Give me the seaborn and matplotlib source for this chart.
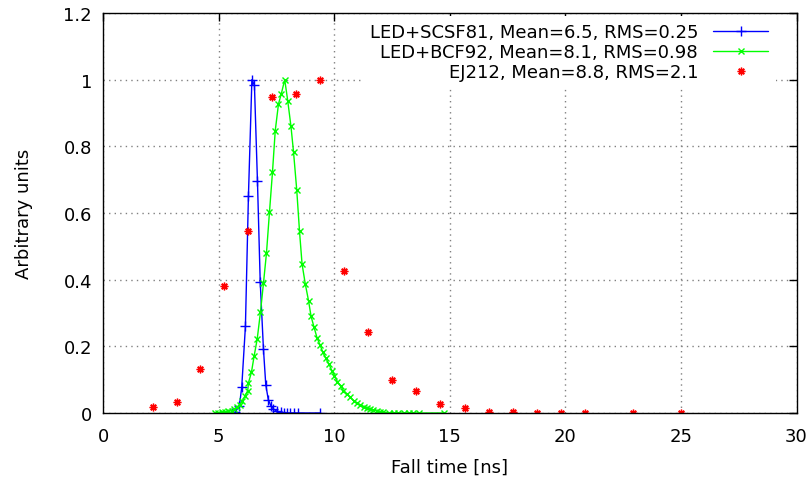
import numpy as np
import pandas as pd
import matplotlib
matplotlib.use("Agg")
import matplotlib.pyplot as plt
import seaborn as sns

# LED+SCSF81 (blue)
scsf81_t = [5.57, 5.71, 5.90, 6.00, 6.16, 6.29, 6.44, 6.55, 6.68, 6.80, 6.94, 7.04,
            7.15, 7.26, 7.37, 7.53, 7.71, 7.84, 7.97, 8.10, 8.27, 8.44, 9.39]
scsf81_y = [0.0, 0.002, 0.022, 0.077, 0.26, 0.65, 1.0, 0.983, 0.697, 0.393, 0.192, 0.085,
            0.04, 0.022, 0.012, 0.005, 0.002, 0.001, 0.0, 0.0, 0.0, 0.0, 0.0]

# LED+BCF92 (green)
bcf92_t = [4.85, 4.99, 5.14, 5.28, 5.42, 5.57, 5.68, 5.80, 5.91, 6.02, 6.13, 6.26, 6.29,
           6.42, 6.54, 6.67, 6.81, 6.94, 7.07, 7.20, 7.33, 7.45, 7.59, 7.71, 7.86, 7.99,
           8.13, 8.24, 8.38, 8.50, 8.61, 8.75, 8.89, 9.00, 9.13, 9.26, 9.39, 9.51, 9.64,
           9.77, 9.90, 10.01, 10.14, 10.29, 10.40, 10.55, 10.69, 10.84, 10.98, 11.13,
           11.27, 11.42, 11.56, 11.70, 11.85, 11.99, 12.13, 12.35, 12.57, 12.78, 13.00,
           13.22, 13.43, 13.65, 14.73]
bcf92_y = [0.001, 0.001, 0.002, 0.003, 0.005, 0.007, 0.012, 0.017, 0.025, 0.035, 0.05, 0.067,
           0.09, 0.122, 0.172, 0.222, 0.302, 0.389, 0.479, 0.602, 0.722, 0.847, 0.927, 0.957,
           1.0, 0.937, 0.86, 0.784, 0.669, 0.545, 0.447, 0.387, 0.337, 0.29, 0.257, 0.225,
           0.204, 0.182, 0.164, 0.147, 0.127, 0.112, 0.094, 0.08, 0.067, 0.057, 0.047, 0.037,
           0.03, 0.024, 0.019, 0.015, 0.012, 0.009, 0.007, 0.004, 0.002, 0.001, 0.001, 0.0,
           0.0, 0.0, 0.0, 0.0, 0.0]

# EJ212 (red points)
ej212_t = [2.16, 3.20, 4.20, 5.24, 6.28, 7.32, 8.35, 9.39, 10.42, 11.46, 12.48, 13.54,
           14.58, 15.64, 16.70, 17.73, 18.76, 19.80, 20.84, 22.92, 25.0]
ej212_y = [0.018, 0.033, 0.132, 0.381, 0.546, 0.948, 0.957, 1.0, 0.427, 0.242, 0.099, 0.065,
           0.027, 0.015, 0.004, 0.003, 0.001, 0.0, 0.0, 0.0, 0.0]

labels = ["LED+SCSF81, Mean=6.5, RMS=0.25",
          "LED+BCF92, Mean=8.1, RMS=0.98",
          "EJ212, Mean=8.8, RMS=2.1"]

sns.set_theme(style="white")
plt.rcParams["font.family"] = ["DejaVu Sans"]
plt.rcParams["font.size"] = 13
plt.rcParams["text.color"] = "black"
plt.rcParams["axes.labelcolor"] = "black"

fig = plt.figure(figsize=(8.08, 4.81), dpi=100)
ax = fig.add_axes([0.1275, 0.1393, 0.8583, 0.8316])

df1 = pd.DataFrame({"t": scsf81_t, "y": scsf81_y})
df2 = pd.DataFrame({"t": bcf92_t, "y": bcf92_y})
df3 = pd.DataFrame({"t": ej212_t, "y": ej212_y})

sns.lineplot(data=df1, x="t", y="y", ax=ax, color="#0000ff", lw=1.0, marker="+",
             markersize=6.5, mew=1.0, mec="#0000ff", estimator=None, label=labels[0])
sns.lineplot(data=df2, x="t", y="y", ax=ax, color="#00ff00", lw=1.0, marker="x",
             markersize=5, mew=1.0, mec="#00ff00", estimator=None, label=labels[1])
sns.lineplot(data=df3, x="t", y="y", ax=ax, color="#ff0000", linestyle="none",
             marker=(8, 2, 0), markersize=5.5, mew=1.0, mec="#ff0000", estimator=None,
             label=labels[2])

ax.set_xlim(0, 30)
ax.set_ylim(0, 1.2)
ax.set_xticks([0, 5, 10, 15, 20, 25, 30])
ax.set_yticks([0, 0.2, 0.4, 0.6, 0.8, 1.0, 1.2])
ax.set_yticklabels(["0", "0.2", "0.4", "0.6", "0.8", "1", "1.2"])
ax.tick_params(direction="in", length=6, width=1, top=True, right=True,
               labelsize=13, colors="black", pad=8)
ax.tick_params(axis="x", pad=10)
ax.grid(True, color="#808080", linestyle=(0, (1, 3)), lw=1.0)
for s in ax.spines.values():
    s.set_color("black")
    s.set_linewidth(1.0)

ax.set_xlabel("Fall time [ns]", fontsize=13, labelpad=9)
ax.set_ylabel("Arbitrary units", fontsize=13, labelpad=22)

leg = ax.legend(loc="upper right", bbox_to_anchor=(0.970, 0.9925), markerfirst=False,
                frameon=True, fontsize=13, handlelength=3.1, labelspacing=0.1,
                borderaxespad=0.0, fancybox=False, framealpha=1.0)
leg.get_frame().set_edgecolor("none")
for t in leg.get_texts():
    t.set_ha("right")
    t.set_color("black")
leg._legend_box.align = "right"

fig.savefig("out.png", dpi=100)
